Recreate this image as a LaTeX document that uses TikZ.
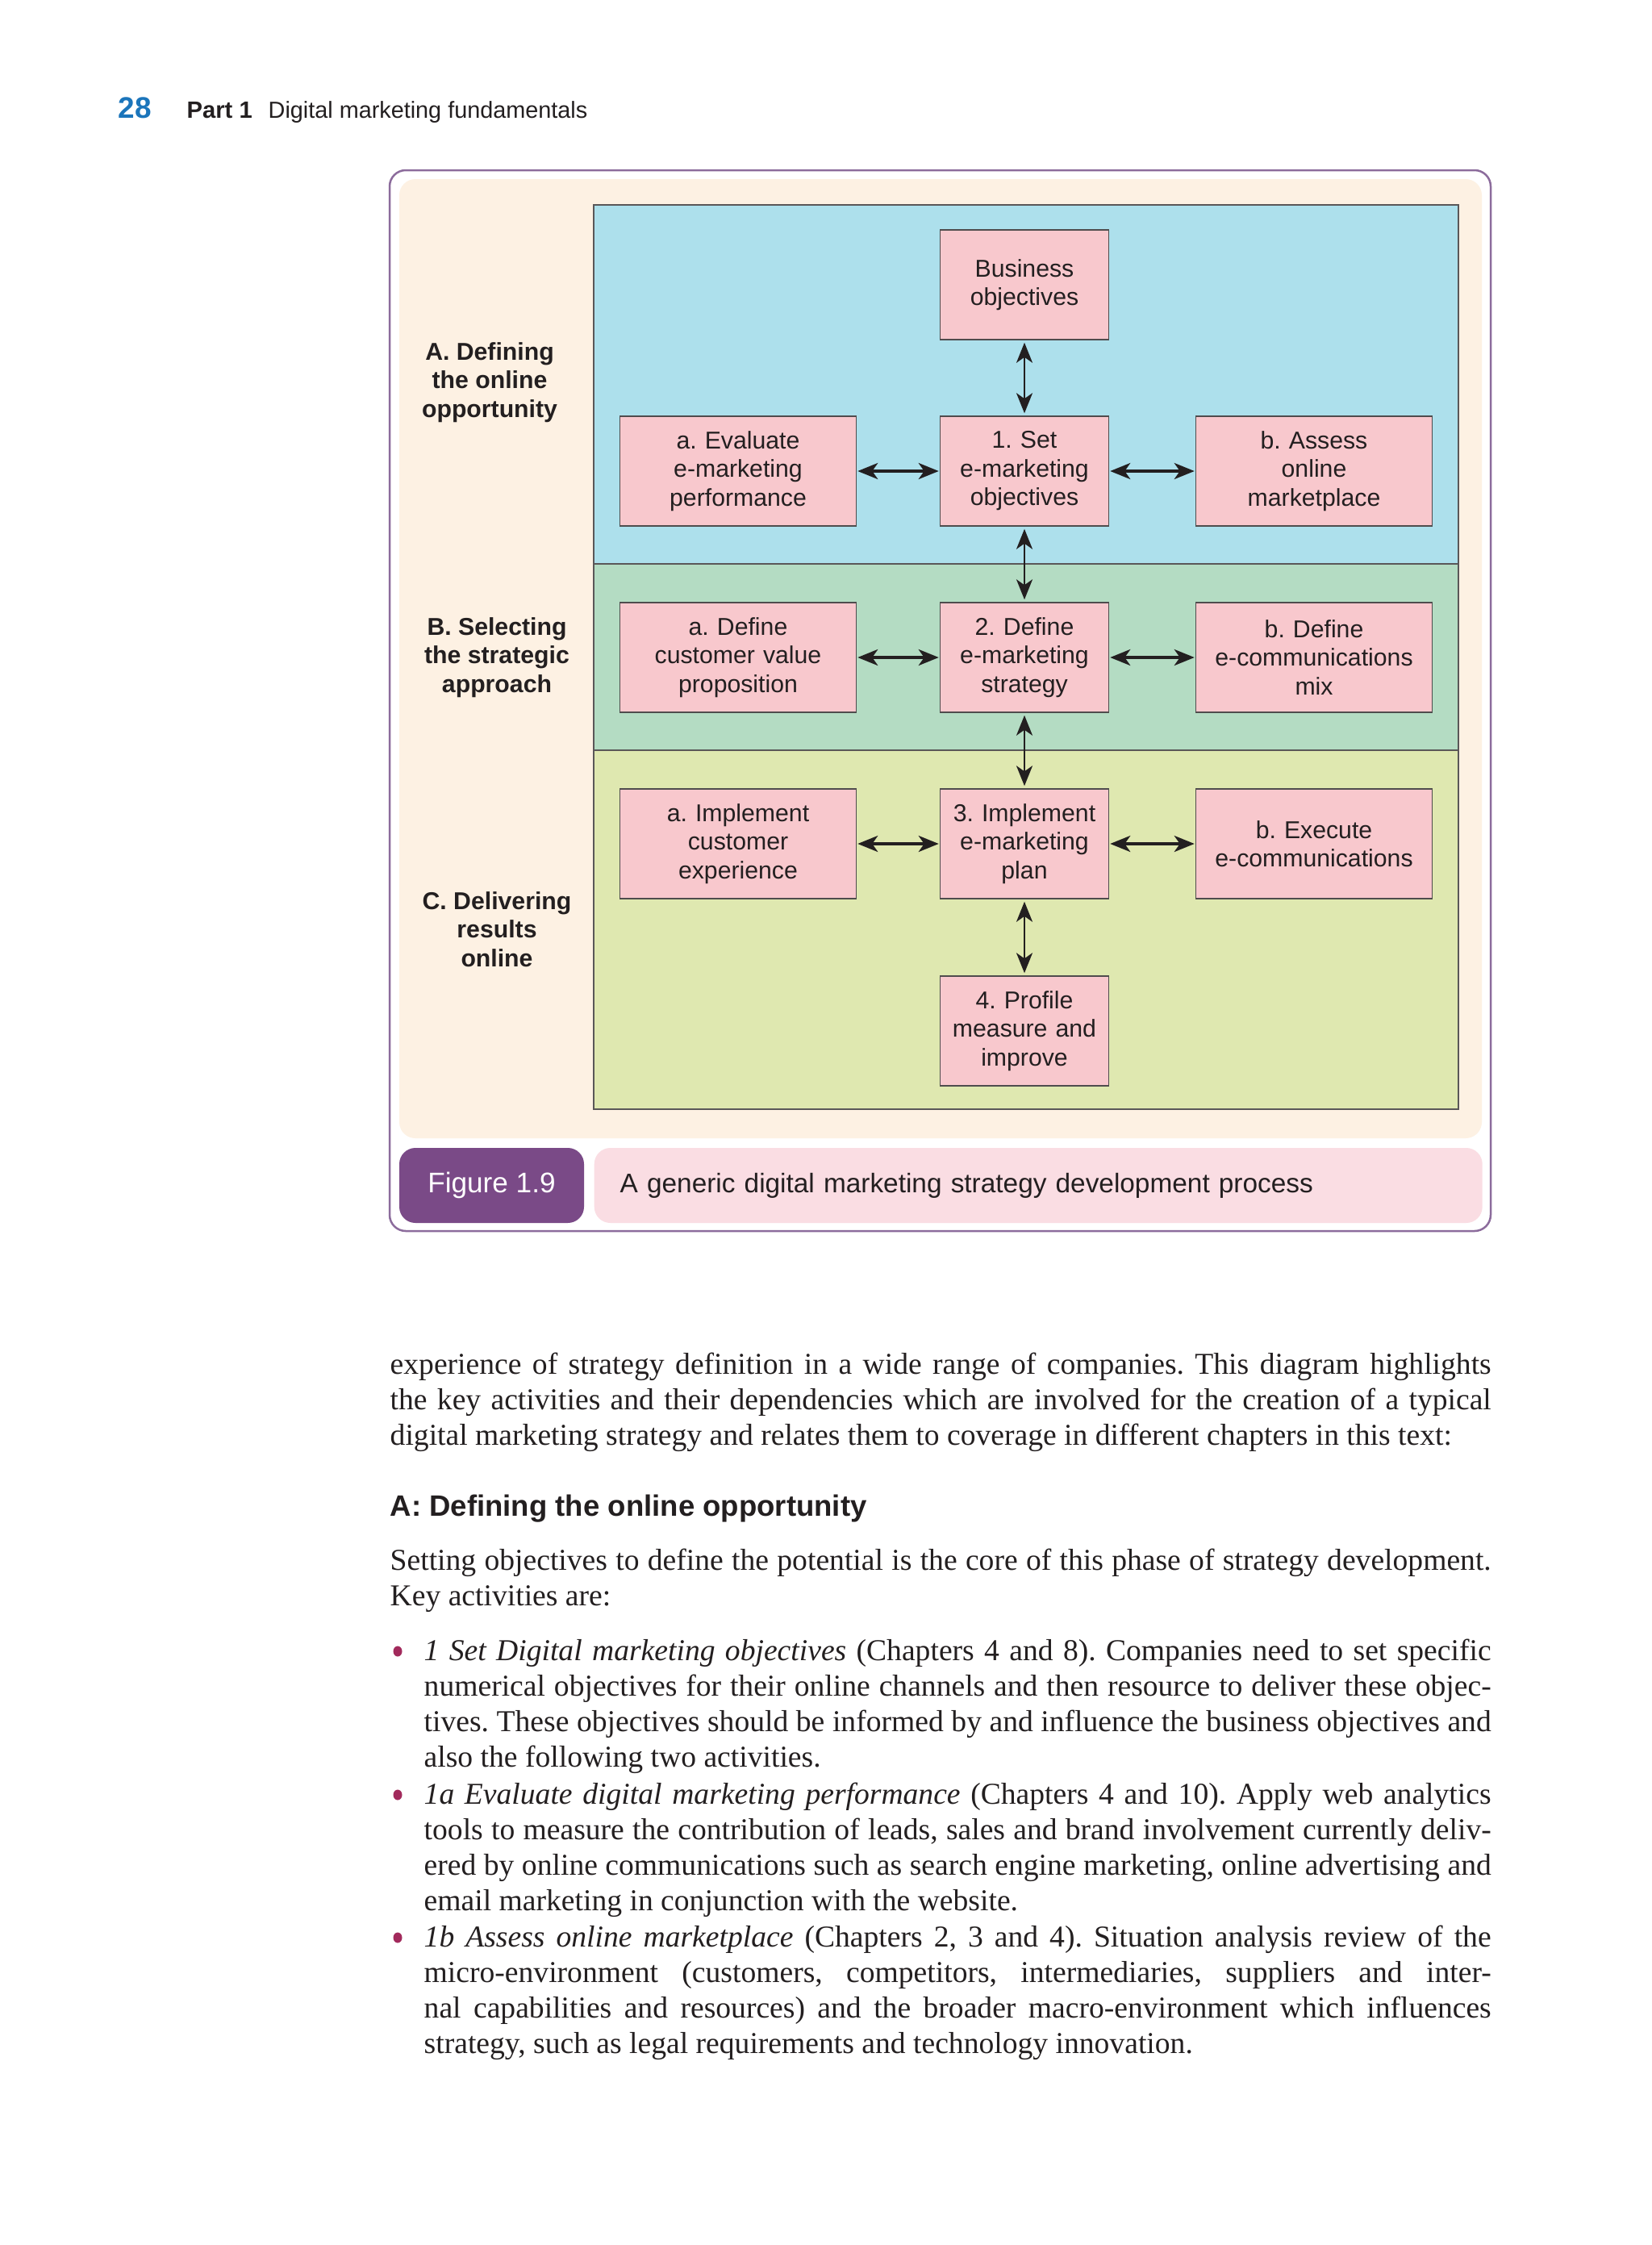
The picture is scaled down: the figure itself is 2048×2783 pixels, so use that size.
\documentclass[tikz,border=0pt]{standalone}
\usepackage{fontspec}
\setmainfont{Liberation Serif}
\setsansfont{Liberation Sans}
\newfontfamily\bodyfont{Liberation Serif}
\usetikzlibrary{arrows.meta,positioning,shapes}
\frenchspacing
\tolerance=9999
\emergencystretch=2em

\definecolor{panelcream}{HTML}{FDF1E3}
\definecolor{zoneblue}{HTML}{ADE0EC}
\definecolor{zonegreen}{HTML}{B4DCC3}
\definecolor{zoneolive}{HTML}{DFE8B0}
\definecolor{boxpink}{HTML}{F8C8CD}
\definecolor{capink}{HTML}{FADDE3}
\definecolor{figpurple}{HTML}{7A4A87}
\definecolor{framepurple}{HTML}{8C6C9C}
\definecolor{pagenum}{HTML}{1B75BB}
\definecolor{bulletred}{HTML}{A22A5C}
\definecolor{ink}{HTML}{231F20}

\begin{document}
\begin{tikzpicture}[x=0.1mm,y=-0.1mm,
  stepbox/.style={draw=ink!80,line width=0.15mm,fill=boxpink,align=center,
    font=\sffamily\fontsize{8.6}{10.1}\selectfont,text=ink,
    minimum height=13.6mm,inner sep=0pt},
  midbox/.style={stepbox,minimum width=20.9mm,text width=20.9mm},
  sidebox/.style={stepbox,minimum width=29.3mm,text width=29.3mm},
  zone/.style={draw=ink!75,line width=0.15mm},
  phase/.style={align=center,inner sep=0pt,text=ink,
    font=\sffamily\bfseries\fontsize{8.6}{10.1}\selectfont},
  varrow/.style={{Stealth[length=2.5mm,width=2mm,inset=0.7mm]}-{Stealth[length=2.5mm,width=2mm,inset=0.7mm]},
    line width=0.25mm,ink,shorten <=0.3mm,shorten >=0.3mm},
  harrow/.style={{Stealth[length=2.5mm,width=2mm,inset=0.7mm]}-{Stealth[length=2.5mm,width=2mm,inset=0.7mm]},
    line width=0.35mm,ink,shorten <=0.1mm,shorten >=0.1mm},
  para/.style={anchor=base west,inner sep=0pt,align=justify,text=ink,
    font=\bodyfont\fontsize{10.7}{12.6}\selectfont},
  head/.style={anchor=base west,inner sep=0pt,text=ink},
  ]
  \useasboundingbox[fill=white] (0,0) rectangle (2048,2783);

  % running head
  \node[head,text=pagenum,font=\sffamily\bfseries\fontsize{10.5}{12}\selectfont] (pageno) at (146,146) {28};
  \node[head,font=\sffamily\bfseries\fontsize{8.3}{10}\selectfont] (part) at (231,146) {Part 1};
  \node[head,font=\sffamily\fontsize{8.2}{10}\selectfont] (running) at (332,146) {Digital marketing fundamentals};

  % figure frame and zones
  \draw[framepurple,line width=0.25mm,rounded corners=2mm] (483,211) rectangle (1848,1526);
  \fill[panelcream,rounded corners=2mm] (495,222) rectangle (1837,1411);
  \filldraw[zone,fill=zoneblue] (736,254) rectangle (1808,699);
  \filldraw[zone,fill=zonegreen] (736,699) rectangle (1808,930);
  \filldraw[zone,fill=zoneolive] (736,930) rectangle (1808,1375);

  \node[phase] (phasea) at (607,474) {A. Defining\\the online\\opportunity};
  \node[phase] (phaseb) at (616,815) {B. Selecting\\the strategic\\approach};
  \node[phase] (phasec) at (616,1152) {C. Delivering\\results\\online};

  % steps
  \node[midbox] (business) at (1270,353) {Business\\objectives};
  \node[midbox] (setobj) at (1270,584) {1. Set\\e-marketing\\objectives};
  \node[sidebox] (evaluate) at (915,584) {a. Evaluate\\e-marketing\\performance};
  \node[sidebox] (assess) at (1629,584) {b. Assess\\online\\marketplace};
  \node[midbox] (strategy) at (1270,815) {2. Define\\e-marketing\\strategy};
  \node[sidebox] (proposition) at (915,815) {a. Define\\customer value\\proposition};
  \node[sidebox] (commsmix) at (1629,815) {b. Define\\e-communications\\mix};
  \node[midbox] (plan) at (1270,1046) {3. Implement\\e-marketing\\plan};
  \node[sidebox] (experience) at (915,1046) {a. Implement\\customer\\experience};
  \node[sidebox] (execute) at (1629,1046) {b. Execute\\e-communications};
  \node[midbox] (improve) at (1270,1278) {4. Profile\\measure and\\improve};

  \draw[varrow] (business) -- (setobj);
  \draw[varrow] (setobj) -- (strategy);
  \draw[varrow] (strategy) -- (plan);
  \draw[varrow] (plan) -- (improve);
  \draw[harrow] (evaluate) -- (setobj);
  \draw[harrow] (setobj) -- (assess);
  \draw[harrow] (proposition) -- (strategy);
  \draw[harrow] (strategy) -- (commsmix);
  \draw[harrow] (experience) -- (plan);
  \draw[harrow] (plan) -- (execute);

  % caption bar
  \node[fill=figpurple,rounded corners=2mm,minimum width=22.9mm,minimum height=9.3mm,
    text=white,font=\sffamily\fontsize{10}{12}\selectfont] (figlabel) at (609.5,1469.5) {Figure 1.9};
  \node[fill=capink,rounded corners=2mm,minimum height=9.3mm,anchor=west,inner xsep=3.2mm,
    text width=103.7mm,align=left,text=ink,font=\sffamily\fontsize{9.5}{12}\selectfont]
    (figcaption) at (736,1469.5) {A generic digital marketing strategy development process};

  % body text
  \node[para,text width=136.5mm] (intro) at (483,1703) {experience of strategy definition in a wide range of companies. This diagram highlights\linebreak
    the key activities and their dependencies which are involved for the creation of a typical\linebreak
    digital marketing strategy and relates them to coverage in different chapters in this text:};
  \node[head,font=\sffamily\bfseries\fontsize{10.4}{12}\selectfont] (heading) at (483,1879) {A: Defining the online opportunity};
  \node[para,text width=136.5mm] (setting) at (483,1946) {Setting objectives to define the potential is the core of this phase of strategy development.\linebreak
    Key activities are:};

  \node[para,text width=132.3mm] (bulletone) at (525,2058) {\textit{1 Set Digital marketing objectives} (Chapters 4 and 8). Companies need to set specific\linebreak
    numerical objectives for their online channels and then resource to deliver these objec-\linebreak
    tives. These objectives should be informed by and influence the business objectives and\linebreak
    also the following two activities.};
  \node[para,text width=132.3mm] (bullettwo) at (525,2236) {\textit{1a Evaluate digital marketing performance} (Chapters 4 and 10). Apply web analytics\linebreak
    tools to measure the contribution of leads, sales and brand involvement currently deliv-\linebreak
    ered by online communications such as search engine marketing, online advertising and\linebreak
    email marketing in conjunction with the website.};
  \node[para,text width=132.3mm] (bulletthree) at (525,2413) {\textit{1b Assess online marketplace} (Chapters 2, 3 and 4). Situation analysis review of the\linebreak
    micro-environment (customers, competitors, intermediaries, suppliers and inter-\linebreak
    nal capabilities and resources) and the broader macro-environment which influences\linebreak
    strategy, such as legal requirements and technology innovation.};

  \fill[bulletred] (493,2047) ellipse (0.55mm and 0.65mm);
  \fill[bulletred] (493,2225) ellipse (0.55mm and 0.65mm);
  \fill[bulletred] (493,2402) ellipse (0.55mm and 0.65mm);
\end{tikzpicture}
\end{document}
